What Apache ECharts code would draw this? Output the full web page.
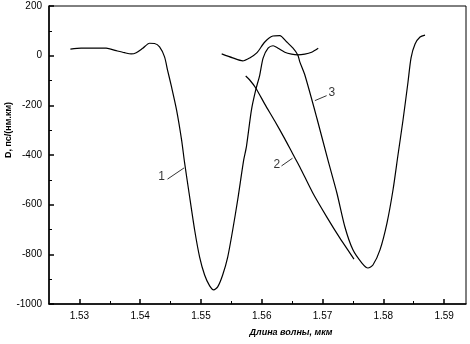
<!DOCTYPE html>
<html>
<head>
<meta charset="utf-8">
<script src="https://cdn.jsdelivr.net/npm/echarts@6/dist/echarts.min.js"></script>
<style>
  html, body { margin: 0; padding: 0; background: #fff; }
  #chart { width: 470px; height: 344px; }
</style>
</head>
<body>
<div id="chart"></div>
<script>
// кривая 1: [длина волны, D]
const curve1 = [
  [1.52852, 26], [1.53028, 30], [1.5344, 30], [1.53605, 20], [1.53742, 12],
  [1.53852, 7], [1.53935, 12], [1.54043, 30], [1.54154, 50], [1.54236, 49],
  [1.54319, 35], [1.54401, -5], [1.5445, -58], [1.54516, -126], [1.54599, -219],
  [1.54681, -339], [1.54731, -432], [1.54797, -541], [1.54896, -702], [1.54978, -811],
  [1.5506, -883], [1.55143, -927], [1.55209, -943], [1.55275, -931], [1.55357, -883],
  [1.5544, -811], [1.55522, -702], [1.55604, -581], [1.55703, -420], [1.55748, -366],
  [1.5583, -219], [1.55901, -138], [1.55967, -78], [1.56022, -10], [1.56104, 30],
  [1.56187, 40], [1.56269, 30], [1.56379, 14], [1.5649, 6], [1.56589, 3],
  [1.56709, 6], [1.5682, 14], [1.56929, 30]
];
const curve2 = [
  [1.55736, -82], [1.55802, -98], [1.55901, -130], [1.5605, -195], [1.56214, -263],
  [1.56379, -335], [1.56511, -396], [1.56626, -448], [1.5684, -553], [1.57071, -650],
  [1.57286, -735], [1.57451, -795], [1.57517, -819]
];
const curve3 = [
  [1.55341, 7], [1.55522, -9], [1.55687, -21], [1.55802, -9], [1.55918, 11],
  [1.5605, 55], [1.56182, 79], [1.56297, 81], [1.56413, 55], [1.56511, 31],
  [1.56593, 3], [1.56626, -25], [1.56709, -78], [1.56906, -251], [1.57088, -420],
  [1.57236, -553], [1.57368, -690], [1.575, -782], [1.57648, -835], [1.57747, -855],
  [1.57829, -843], [1.57945, -782], [1.5806, -674], [1.58159, -541], [1.58241, -400],
  [1.58324, -259], [1.58406, -106], [1.58456, -9], [1.58522, 47], [1.58604, 75],
  [1.58686, 83]
];

// подписи кривых и выноски
const curveNames = ['1', '2', '3'];
const namePos = [[1.54352, -488], [1.56247, -440], [1.57154, -150]];
const leaders = [
  [[1.5445, -497], [1.54722, -452]],
  [[1.56325, -444], [1.56506, -413]],
  [[1.56874, -181], [1.57067, -161]]
];

// деления осей
const xMajor = [1.53, 1.54, 1.55, 1.56, 1.57, 1.58, 1.59];
const xMinor = [1.535, 1.545, 1.555, 1.565, 1.575, 1.585];
const yMajor = [-1000, -800, -600, -400, -200, 0, 200];
const yMinor = [-900, -700, -500, -300, -100, 100];

let chart = echarts.init(document.getElementById('chart'));

const font = 'Liberation Sans';
const xMin = 1.525, xMax = 1.5936;

let series = [curve1, curve2, curve3].map((d, i) => ({
  name: curveNames[i],
  type: 'line',
  data: d,
  smooth: 0.25,
  showSymbol: false,
  lineStyle: { color: '#000', width: 1.2 },
  animation: false
}));

leaders.forEach(d => {
  series.push({
    type: 'line',
    data: d,
    showSymbol: false,
    lineStyle: { color: '#000', width: 0.8 },
    animation: false
  });
});

series.push({
  type: 'scatter',
  symbolSize: 0,
  data: namePos.map((p, i) => ({ value: p, name: curveNames[i] })),
  label: {
    show: true,
    position: 'inside',
    formatter: p => p.name,
    color: '#000',
    fontFamily: font,
    fontSize: 12
  },
  animation: false
});

let option = {
  backgroundColor: '#fff',
  grid: {
    left: 49, right: 4, top: 6, bottom: 40,
    show: true,
    borderColor: '#000',
    borderWidth: 1
  },
  xAxis: [
    {
      type: 'value',
      min: xMin,
      max: xMax,
      axisLine: { show: true, onZero: false, lineStyle: { color: '#000', width: 1.5 } },
      axisTick: { show: true, inside: true, length: 5, customValues: xMajor, lineStyle: { color: '#000', width: 1.5 } },
      axisLabel: { customValues: xMajor, color: '#000', fontFamily: font, fontSize: 10, margin: 7,
        formatter: v => v.toFixed(2) },
      splitLine: { show: false }
    },
    {
      type: 'value',
      min: xMin,
      max: xMax,
      position: 'bottom',
      axisLine: { show: false, onZero: false },
      axisTick: { show: true, inside: true, length: 3, customValues: xMinor, lineStyle: { color: '#000', width: 1 } },
      axisLabel: { show: false },
      splitLine: { show: false }
    }
  ],
  yAxis: [
    {
      type: 'value',
      min: -1000,
      max: 200,
      axisLine: { show: true, onZero: false, lineStyle: { color: '#000', width: 1.5 } },
      axisTick: { show: true, inside: true, length: 5, customValues: yMajor, lineStyle: { color: '#000', width: 1.5 } },
      axisLabel: { customValues: yMajor, color: '#000', fontFamily: font, fontSize: 10, margin: 7,
        formatter: v => String(v) },
      splitLine: { show: false }
    },
    {
      type: 'value',
      min: -1000,
      max: 200,
      position: 'left',
      axisLine: { show: false, onZero: false },
      axisTick: { show: true, inside: true, length: 3, customValues: yMinor, lineStyle: { color: '#000', width: 1 } },
      axisLabel: { show: false },
      splitLine: { show: false }
    }
  ],
  graphic: [
    {
      type: 'text',
      x: 291, y: 333,
      style: {
        text: 'Длина волны, мкм',
        fontFamily: font, fontSize: 9, fontStyle: 'italic', fontWeight: 'bold',
        fill: '#000', align: 'center', verticalAlign: 'middle'
      }
    },
    {
      type: 'text',
      x: 9, y: 130,
      rotation: Math.PI / 2,
      style: {
        text: 'D, пс/(нм.км)',
        fontFamily: font, fontSize: 9, fontWeight: 'bold',
        fill: '#000', align: 'center', verticalAlign: 'middle'
      }
    }
  ],
  series: series
};

chart.setOption(option);
</script>
</body>
</html>
